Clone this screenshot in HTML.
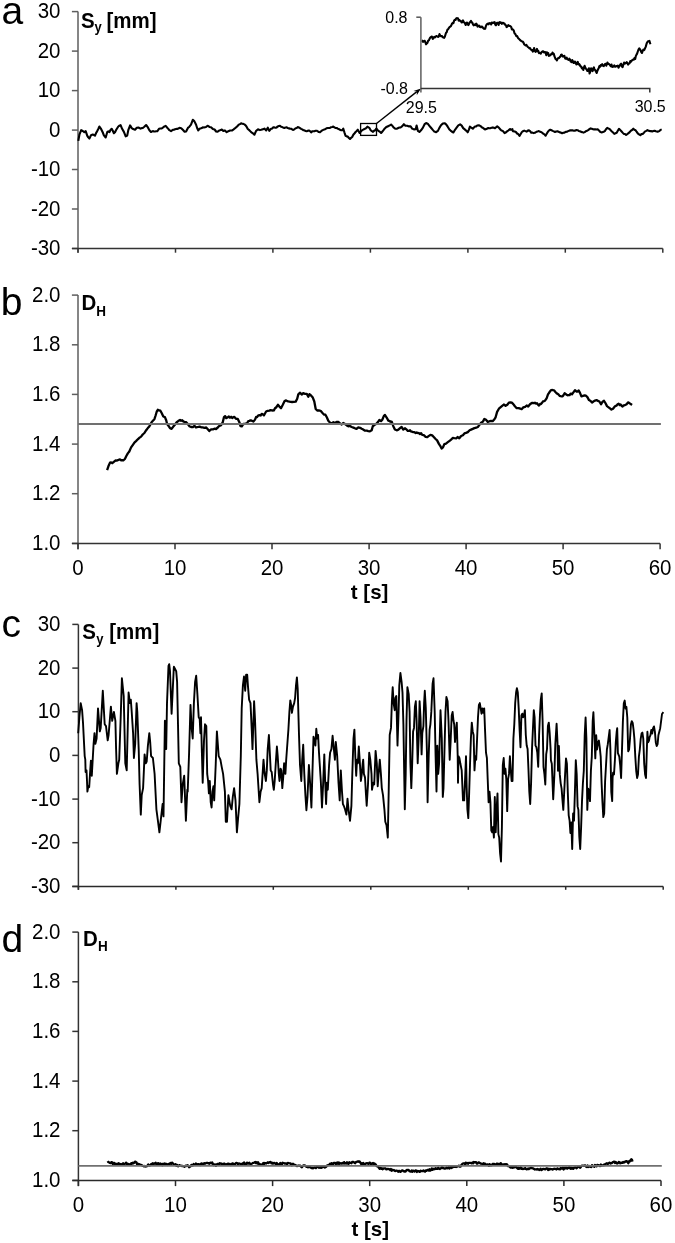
<!DOCTYPE html><html><head><meta charset="utf-8"><style>html,body{margin:0;padding:0;background:#fff;width:675px;height:1243px;overflow:hidden}svg{display:block;will-change:transform}text{font-family:"Liberation Sans",sans-serif}</style></head><body>
<svg width="675" height="1243" viewBox="0 0 675 1243">
<rect width="675" height="1243" fill="#fff"/>
<text x="1.5" y="23.7" font-size="39" fill="#000">a</text>
<text x="0.8" y="314.8" font-size="39" fill="#000">b</text>
<text x="1.5" y="636.5" font-size="39" fill="#000">c</text>
<text x="1.6" y="952.0" font-size="39" fill="#000">d</text>
<path d="M78.0 11.6V252.7" stroke="#5e5e5e" stroke-width="1.5" fill="none"/>
<path d="M71.9 248.5H78.0" stroke="#5e5e5e" stroke-width="1.5"/>
<text transform="translate(60.50 255.20) scale(1 1.07)" font-size="20.5" text-anchor="end">-30</text>
<path d="M71.9 209.0H78.0" stroke="#5e5e5e" stroke-width="1.5"/>
<text transform="translate(60.50 215.72) scale(1 1.07)" font-size="20.5" text-anchor="end">-20</text>
<path d="M71.9 169.5H78.0" stroke="#5e5e5e" stroke-width="1.5"/>
<text transform="translate(60.50 176.23) scale(1 1.07)" font-size="20.5" text-anchor="end">-10</text>
<path d="M71.9 130.1H78.0" stroke="#5e5e5e" stroke-width="1.5"/>
<text transform="translate(60.50 136.75) scale(1 1.07)" font-size="20.5" text-anchor="end">0</text>
<path d="M71.9 90.6H78.0" stroke="#5e5e5e" stroke-width="1.5"/>
<text transform="translate(60.50 97.27) scale(1 1.07)" font-size="20.5" text-anchor="end">10</text>
<path d="M71.9 51.1H78.0" stroke="#5e5e5e" stroke-width="1.5"/>
<text transform="translate(60.50 57.78) scale(1 1.07)" font-size="20.5" text-anchor="end">20</text>
<path d="M71.9 11.6H78.0" stroke="#5e5e5e" stroke-width="1.5"/>
<text transform="translate(60.50 18.30) scale(1 1.07)" font-size="20.5" text-anchor="end">30</text>
<path d="M71.9 248.5H662.8" stroke="#333" stroke-width="1.5" fill="none"/>
<path d="M78.0 248.5V252.7" stroke="#333" stroke-width="1.5"/>
<path d="M175.5 248.5V252.7" stroke="#333" stroke-width="1.5"/>
<path d="M272.9 248.5V252.7" stroke="#333" stroke-width="1.5"/>
<path d="M370.4 248.5V252.7" stroke="#333" stroke-width="1.5"/>
<path d="M467.9 248.5V252.7" stroke="#333" stroke-width="1.5"/>
<path d="M565.3 248.5V252.7" stroke="#333" stroke-width="1.5"/>
<path d="M662.8 248.5V252.7" stroke="#333" stroke-width="1.5"/>
<path d="M78.0 295.1V549.2" stroke="#5e5e5e" stroke-width="1.5" fill="none"/>
<path d="M71.9 543.4H78.0" stroke="#5e5e5e" stroke-width="1.5"/>
<text transform="translate(60.50 550.10) scale(1 1.07)" font-size="20.5" text-anchor="end">1.0</text>
<path d="M71.9 493.7H78.0" stroke="#5e5e5e" stroke-width="1.5"/>
<text transform="translate(60.50 500.44) scale(1 1.07)" font-size="20.5" text-anchor="end">1.2</text>
<path d="M71.9 444.1H78.0" stroke="#5e5e5e" stroke-width="1.5"/>
<text transform="translate(60.50 450.78) scale(1 1.07)" font-size="20.5" text-anchor="end">1.4</text>
<path d="M71.9 394.4H78.0" stroke="#5e5e5e" stroke-width="1.5"/>
<text transform="translate(60.50 401.12) scale(1 1.07)" font-size="20.5" text-anchor="end">1.6</text>
<path d="M71.9 344.8H78.0" stroke="#5e5e5e" stroke-width="1.5"/>
<text transform="translate(60.50 351.46) scale(1 1.07)" font-size="20.5" text-anchor="end">1.8</text>
<path d="M71.9 295.1H78.0" stroke="#5e5e5e" stroke-width="1.5"/>
<text transform="translate(60.50 301.80) scale(1 1.07)" font-size="20.5" text-anchor="end">2.0</text>
<path d="M71.9 543.4H660.1" stroke="#333" stroke-width="1.5" fill="none"/>
<path d="M78.0 543.4V549.2" stroke="#333" stroke-width="1.5"/>
<text transform="translate(78.00 574.80) scale(1 1.07)" font-size="20.5" text-anchor="middle">0</text>
<path d="M175.0 543.4V549.2" stroke="#333" stroke-width="1.5"/>
<text transform="translate(175.02 574.80) scale(1 1.07)" font-size="20.5" text-anchor="middle">10</text>
<path d="M272.0 543.4V549.2" stroke="#333" stroke-width="1.5"/>
<text transform="translate(272.03 574.80) scale(1 1.07)" font-size="20.5" text-anchor="middle">20</text>
<path d="M369.1 543.4V549.2" stroke="#333" stroke-width="1.5"/>
<text transform="translate(369.05 574.80) scale(1 1.07)" font-size="20.5" text-anchor="middle">30</text>
<path d="M466.1 543.4V549.2" stroke="#333" stroke-width="1.5"/>
<text transform="translate(466.07 574.80) scale(1 1.07)" font-size="20.5" text-anchor="middle">40</text>
<path d="M563.1 543.4V549.2" stroke="#333" stroke-width="1.5"/>
<text transform="translate(563.08 574.80) scale(1 1.07)" font-size="20.5" text-anchor="middle">50</text>
<path d="M660.1 543.4V549.2" stroke="#333" stroke-width="1.5"/>
<text transform="translate(660.10 574.80) scale(1 1.07)" font-size="20.5" text-anchor="middle">60</text>
<text x="369.6" y="599.3" font-size="20.5" font-weight="bold" text-anchor="middle">t [s]</text>
<path d="M78.4 624.4V889.8" stroke="#333" stroke-width="1.5" fill="none"/>
<path d="M72.3 886.4H78.4" stroke="#333" stroke-width="1.5"/>
<text transform="translate(60.50 893.10) scale(1 1.07)" font-size="20.5" text-anchor="end">-30</text>
<path d="M72.3 842.7H78.4" stroke="#333" stroke-width="1.5"/>
<text transform="translate(60.50 849.43) scale(1 1.07)" font-size="20.5" text-anchor="end">-20</text>
<path d="M72.3 799.1H78.4" stroke="#333" stroke-width="1.5"/>
<text transform="translate(60.50 805.77) scale(1 1.07)" font-size="20.5" text-anchor="end">-10</text>
<path d="M72.3 755.4H78.4" stroke="#333" stroke-width="1.5"/>
<text transform="translate(60.50 762.10) scale(1 1.07)" font-size="20.5" text-anchor="end">0</text>
<path d="M72.3 711.7H78.4" stroke="#333" stroke-width="1.5"/>
<text transform="translate(60.50 718.43) scale(1 1.07)" font-size="20.5" text-anchor="end">10</text>
<path d="M72.3 668.1H78.4" stroke="#333" stroke-width="1.5"/>
<text transform="translate(60.50 674.77) scale(1 1.07)" font-size="20.5" text-anchor="end">20</text>
<path d="M72.3 624.4H78.4" stroke="#333" stroke-width="1.5"/>
<text transform="translate(60.50 631.10) scale(1 1.07)" font-size="20.5" text-anchor="end">30</text>
<path d="M72.3 886.4H663.2" stroke="#2a2a2a" stroke-width="1.5" fill="none"/>
<path d="M78.4 886.4V889.8" stroke="#2a2a2a" stroke-width="1.5"/>
<path d="M175.9 886.4V889.8" stroke="#2a2a2a" stroke-width="1.5"/>
<path d="M273.3 886.4V889.8" stroke="#2a2a2a" stroke-width="1.5"/>
<path d="M370.8 886.4V889.8" stroke="#2a2a2a" stroke-width="1.5"/>
<path d="M468.3 886.4V889.8" stroke="#2a2a2a" stroke-width="1.5"/>
<path d="M565.7 886.4V889.8" stroke="#2a2a2a" stroke-width="1.5"/>
<path d="M663.2 886.4V889.8" stroke="#2a2a2a" stroke-width="1.5"/>
<path d="M78.4 932.1V1186.1" stroke="#333" stroke-width="1.5" fill="none"/>
<path d="M72.3 1180.4H78.4" stroke="#333" stroke-width="1.5"/>
<text transform="translate(60.50 1187.10) scale(1 1.07)" font-size="20.5" text-anchor="end">1.0</text>
<path d="M72.3 1130.7H78.4" stroke="#333" stroke-width="1.5"/>
<text transform="translate(60.50 1137.44) scale(1 1.07)" font-size="20.5" text-anchor="end">1.2</text>
<path d="M72.3 1081.1H78.4" stroke="#333" stroke-width="1.5"/>
<text transform="translate(60.50 1087.78) scale(1 1.07)" font-size="20.5" text-anchor="end">1.4</text>
<path d="M72.3 1031.4H78.4" stroke="#333" stroke-width="1.5"/>
<text transform="translate(60.50 1038.12) scale(1 1.07)" font-size="20.5" text-anchor="end">1.6</text>
<path d="M72.3 981.8H78.4" stroke="#333" stroke-width="1.5"/>
<text transform="translate(60.50 988.46) scale(1 1.07)" font-size="20.5" text-anchor="end">1.8</text>
<path d="M72.3 932.1H78.4" stroke="#333" stroke-width="1.5"/>
<text transform="translate(60.50 938.80) scale(1 1.07)" font-size="20.5" text-anchor="end">2.0</text>
<path d="M72.3 1180.4H661.0" stroke="#2a2a2a" stroke-width="1.5" fill="none"/>
<path d="M78.4 1180.4V1186.1" stroke="#2a2a2a" stroke-width="1.5"/>
<text transform="translate(78.40 1211.80) scale(1 1.07)" font-size="20.5" text-anchor="middle">0</text>
<path d="M175.5 1180.4V1186.1" stroke="#2a2a2a" stroke-width="1.5"/>
<text transform="translate(175.50 1211.80) scale(1 1.07)" font-size="20.5" text-anchor="middle">10</text>
<path d="M272.6 1180.4V1186.1" stroke="#2a2a2a" stroke-width="1.5"/>
<text transform="translate(272.60 1211.80) scale(1 1.07)" font-size="20.5" text-anchor="middle">20</text>
<path d="M369.7 1180.4V1186.1" stroke="#2a2a2a" stroke-width="1.5"/>
<text transform="translate(369.70 1211.80) scale(1 1.07)" font-size="20.5" text-anchor="middle">30</text>
<path d="M466.8 1180.4V1186.1" stroke="#2a2a2a" stroke-width="1.5"/>
<text transform="translate(466.80 1211.80) scale(1 1.07)" font-size="20.5" text-anchor="middle">40</text>
<path d="M563.9 1180.4V1186.1" stroke="#2a2a2a" stroke-width="1.5"/>
<text transform="translate(563.90 1211.80) scale(1 1.07)" font-size="20.5" text-anchor="middle">50</text>
<path d="M661.0 1180.4V1186.1" stroke="#2a2a2a" stroke-width="1.5"/>
<text transform="translate(661.00 1211.80) scale(1 1.07)" font-size="20.5" text-anchor="middle">60</text>
<text x="370.2" y="1236.3" font-size="20.5" font-weight="bold" text-anchor="middle">t [s]</text>
<text transform="translate(81.00 27.50) scale(1 1.07)" font-size="20.5" font-weight="bold">S</text>
<text transform="translate(94.60 31.90) scale(1 1.07)" font-size="13" font-weight="bold">y</text>
<text transform="translate(106.50 27.50) scale(1 1.07)" font-size="20.5" font-weight="bold">[mm]</text>
<text transform="translate(82.20 639.10) scale(1 1.07)" font-size="20.5" font-weight="bold">S</text>
<text transform="translate(96.20 644.10) scale(1 1.07)" font-size="13" font-weight="bold">y</text>
<text transform="translate(109.30 639.10) scale(1 1.07)" font-size="20.5" font-weight="bold">[mm]</text>
<text transform="translate(81.50 310.30) scale(1 1.07)" font-size="20.5" font-weight="bold">D</text>
<text transform="translate(96.30 315.50) scale(1 1.07)" font-size="13.5" font-weight="bold">H</text>
<text transform="translate(83.00 946.30) scale(1 1.07)" font-size="20.5" font-weight="bold">D</text>
<text transform="translate(98.10 951.20) scale(1 1.07)" font-size="13.5" font-weight="bold">H</text>
<path d="M78.2 733.2 L79.4 717.3 L80.7 703.1 L82.1 710.2 L83.0 722.6 L84.7 756.2 L85.3 759.7 L85.6 772.1 L86.5 770.4 L87.0 781.0 L87.4 791.6 L88.3 786.3 L89.2 787.2 L90.0 773.9 L90.9 760.6 L91.8 775.7 L92.7 759.7 L93.6 743.8 L94.5 733.2 L95.4 743.8 L96.6 738.5 L98.0 708.4 L99.8 731.4 L100.7 727.9 L102.8 690.7 L104.7 724.3 L106.0 726.1 L107.7 740.3 L108.6 735.0 L110.9 706.6 L112.2 720.8 L113.9 711.9 L115.4 720.8 L116.1 749.1 L116.9 773.9 L118.4 763.3 L119.2 759.7 L120.7 717.3 L121.9 678.3 L123.7 696.0 L125.3 763.3 L126.7 770.4 L128.6 692.5 L129.9 703.1 L130.8 699.6 L131.6 710.2 L133.1 733.2 L133.9 758.0 L135.2 743.8 L136.6 703.1 L137.3 711.9 L138.7 749.1 L139.6 784.5 L140.8 814.6 L141.7 795.1 L143.1 788.1 L144.6 754.4 L145.8 763.3 L146.7 761.5 L147.9 745.6 L149.3 733.2 L150.2 742.0 L151.1 756.2 L152.9 758.0 L154.6 773.9 L156.4 809.3 L157.8 819.9 L159.4 832.3 L160.8 819.9 L162.6 804.0 L163.5 816.4 L164.9 720.8 L166.2 749.1 L167.0 703.1 L168.5 665.9 L169.2 664.2 L170.0 671.2 L171.6 713.7 L173.8 667.7 L173.9 666.8 L176.2 671.2 L177.1 681.9 L178.0 724.3 L178.8 763.3 L180.3 766.8 L181.5 802.2 L182.7 784.5 L184.2 775.7 L185.9 820.8 L187.3 789.8 L187.7 791.6 L189.1 752.7 L190.5 704.9 L191.6 727.9 L192.7 738.5 L193.9 703.1 L195.1 681.9 L196.2 675.7 L197.4 694.2 L198.7 717.3 L199.7 719.0 L200.4 733.2 L201.0 717.3 L201.9 752.7 L202.7 782.7 L204.0 740.3 L205.0 724.3 L206.3 726.1 L207.2 773.9 L208.1 781.0 L208.9 793.4 L209.8 781.0 L210.7 802.2 L211.6 807.5 L212.5 791.6 L213.4 786.3 L214.2 800.4 L215.7 765.0 L216.9 731.4 L218.7 756.2 L220.4 759.7 L221.7 766.8 L223.1 773.9 L224.9 791.6 L225.8 821.7 L227.0 821.7 L228.4 795.1 L230.2 805.8 L231.6 809.3 L232.8 796.9 L234.1 788.1 L235.5 800.4 L236.9 832.3 L238.1 818.1 L239.4 804.0 L240.8 756.2 L241.7 708.4 L242.9 685.4 L244.0 676.5 L245.2 690.7 L246.1 674.8 L247.2 674.8 L247.9 685.4 L249.1 699.6 L250.5 703.1 L251.8 731.4 L252.5 749.1 L254.1 701.3 L255.0 719.0 L256.4 759.7 L257.6 773.9 L259.4 802.2 L260.6 791.6 L261.7 788.1 L263.5 759.7 L264.7 773.9 L265.9 781.0 L266.8 770.4 L267.7 749.1 L268.9 735.0 L270.0 756.2 L270.7 770.4 L271.7 772.1 L273.0 784.5 L273.8 789.8 L274.7 781.0 L276.0 759.7 L276.9 746.5 L277.7 756.2 L278.8 773.9 L279.5 781.0 L280.6 768.6 L281.3 770.4 L282.3 788.1 L283.2 777.4 L284.1 763.3 L285.4 773.9 L286.2 759.7 L287.1 747.3 L288.4 729.6 L289.4 711.9 L290.3 700.4 L291.2 704.9 L291.9 712.8 L293.0 706.6 L294.2 703.1 L295.1 697.8 L296.0 685.4 L296.9 677.4 L297.7 688.9 L299.0 735.0 L300.0 765.0 L301.3 781.0 L302.2 759.7 L303.2 744.7 L304.3 773.9 L305.4 795.1 L306.4 810.2 L307.5 796.9 L308.9 765.0 L310.1 782.7 L311.4 807.5 L312.4 773.9 L313.5 736.7 L314.6 740.3 L315.4 745.6 L316.3 728.8 L317.2 738.5 L318.1 735.0 L319.0 752.7 L320.8 781.0 L322.0 807.5 L323.1 784.5 L324.3 754.4 L325.2 782.7 L326.1 804.0 L326.9 782.7 L327.8 789.8 L329.1 765.0 L330.1 752.7 L331.4 749.1 L332.6 735.8 L333.7 747.3 L334.9 759.7 L335.8 742.0 L337.2 756.2 L338.5 782.7 L339.7 800.4 L340.8 770.4 L342.0 791.6 L342.9 804.0 L343.8 805.8 L345.0 809.3 L346.4 814.6 L347.5 798.7 L348.5 809.3 L350.0 820.8 L351.4 805.8 L352.3 773.9 L353.5 738.5 L354.4 729.6 L355.3 756.2 L356.2 775.7 L357.0 759.7 L357.9 763.3 L358.8 746.5 L359.7 759.7 L360.9 781.0 L361.8 773.9 L362.7 763.3 L363.2 759.7 L363.9 773.9 L365.0 777.4 L365.8 791.6 L366.7 805.8 L368.0 784.5 L369.2 752.7 L370.3 759.7 L371.5 773.9 L372.0 789.8 L373.3 782.7 L374.2 784.5 L375.6 750.9 L376.8 763.3 L377.7 786.3 L378.6 773.9 L379.8 759.7 L380.9 773.9 L381.8 788.1 L383.0 795.1 L384.4 809.3 L385.3 821.7 L386.5 825.2 L387.8 837.6 L388.7 791.6 L389.7 735.0 L391.0 727.9 L391.9 701.3 L392.7 687.2 L393.6 703.1 L394.7 710.2 L395.4 697.8 L396.3 696.0 L397.5 745.6 L398.6 711.9 L399.3 685.4 L400.4 673.0 L401.6 681.9 L402.5 692.5 L403.4 724.3 L404.2 773.9 L404.8 809.3 L405.7 773.9 L406.5 720.8 L407.4 687.2 L408.7 694.2 L409.6 711.9 L410.4 763.3 L411.3 788.1 L412.2 763.3 L413.1 731.4 L414.0 727.9 L414.9 706.6 L415.8 701.3 L416.6 720.8 L417.7 763.3 L418.8 735.0 L419.6 701.3 L420.5 717.3 L421.6 754.4 L422.3 733.2 L423.4 726.1 L424.1 703.1 L424.8 690.7 L425.8 708.4 L426.9 750.9 L427.6 802.2 L428.7 756.2 L429.6 729.6 L430.4 724.3 L431.3 711.9 L432.6 683.6 L433.5 678.3 L434.7 711.9 L435.6 756.2 L436.5 791.6 L437.3 745.6 L438.2 773.9 L439.1 763.3 L440.5 710.2 L441.8 738.5 L442.8 796.9 L443.5 788.1 L444.6 745.6 L445.5 711.9 L446.4 696.9 L447.6 701.3 L448.5 720.8 L449.7 759.7 L450.6 742.0 L451.7 715.5 L452.6 711.9 L453.5 720.8 L454.2 724.3 L455.0 742.0 L455.9 731.4 L456.8 722.6 L457.7 756.2 L458.0 782.7 L458.5 756.2 L459.4 758.0 L460.3 763.3 L461.7 770.4 L463.0 800.4 L464.2 800.4 L465.3 773.9 L466.0 756.2 L466.7 788.1 L467.4 809.3 L468.3 818.1 L469.2 791.6 L470.0 765.0 L470.9 738.5 L471.8 722.6 L472.7 731.4 L473.6 735.0 L474.5 770.4 L475.4 756.2 L476.2 759.7 L477.1 738.5 L478.0 717.3 L478.9 704.9 L479.8 703.1 L480.7 708.4 L481.5 713.7 L482.4 708.4 L483.3 712.8 L484.2 708.4 L485.1 731.4 L486.0 752.7 L486.9 758.0 L487.7 779.2 L488.6 802.2 L489.5 791.6 L490.4 802.2 L491.3 830.5 L492.2 832.3 L493.1 827.0 L493.9 837.6 L494.8 796.9 L495.7 832.3 L496.6 809.3 L497.5 793.4 L498.4 834.1 L499.2 837.6 L500.1 853.5 L501.0 861.5 L501.9 827.0 L502.8 765.0 L503.7 758.0 L504.6 773.9 L505.4 768.6 L506.3 779.2 L507.2 811.1 L508.1 779.2 L509.0 773.9 L509.9 756.2 L510.8 770.4 L511.6 781.0 L512.5 781.0 L513.4 738.5 L514.3 724.3 L515.2 703.1 L516.1 692.5 L516.9 688.1 L517.8 692.5 L518.7 708.4 L519.6 729.6 L520.5 747.3 L521.4 715.5 L522.3 713.7 L523.1 717.3 L524.0 715.5 L524.9 710.2 L525.8 735.0 L526.7 745.6 L527.6 749.1 L528.5 770.4 L529.3 791.6 L530.2 804.0 L531.1 782.7 L532.0 749.1 L532.9 729.6 L533.8 710.2 L534.6 717.3 L535.5 745.6 L536.4 747.3 L537.3 752.7 L538.2 766.8 L539.1 735.0 L540.0 713.7 L540.8 699.6 L541.7 693.4 L542.6 720.8 L543.5 766.8 L544.4 773.9 L545.3 784.5 L546.2 754.4 L547.0 749.1 L547.9 726.1 L548.8 722.6 L549.7 733.2 L550.6 749.1 L550.9 760.2 L551.8 763.7 L553.2 799.3 L554.4 774.4 L555.3 744.2 L556.6 723.8 L557.5 742.4 L558.0 770.8 L558.9 746.0 L559.8 774.4 L560.7 783.3 L561.6 788.6 L562.4 799.3 L563.3 809.9 L564.2 792.2 L565.1 774.4 L566.0 758.4 L566.9 763.7 L567.8 792.2 L568.7 815.3 L569.6 820.6 L570.4 833.0 L571.3 822.4 L572.2 849.0 L573.1 813.5 L574.0 820.6 L574.9 792.2 L575.8 760.2 L576.7 774.4 L577.6 806.4 L578.4 809.9 L579.3 836.6 L580.2 849.0 L581.1 827.7 L582.0 801.1 L582.9 783.3 L583.8 770.8 L584.7 735.3 L585.6 717.5 L586.4 738.9 L587.3 809.9 L588.2 788.6 L589.1 792.2 L590.0 801.1 L590.9 770.8 L591.8 756.6 L592.7 721.1 L593.4 712.2 L594.4 735.3 L595.3 758.4 L596.2 735.3 L597.1 749.5 L598.0 742.4 L598.9 740.6 L599.8 747.7 L600.7 756.6 L601.6 783.3 L602.4 801.1 L603.3 817.1 L604.2 813.5 L605.1 781.5 L606.0 765.5 L606.9 749.5 L607.8 744.2 L608.7 737.1 L609.6 730.0 L610.4 749.5 L611.3 792.2 L612.2 801.1 L612.6 778.0 L613.1 772.6 L614.0 774.4 L614.9 760.2 L615.8 742.4 L616.7 731.7 L617.2 728.2 L617.9 753.1 L619.3 756.6 L620.2 765.5 L621.1 778.0 L622.0 749.5 L622.9 721.1 L623.8 703.3 L624.7 700.6 L625.6 708.6 L626.4 706.9 L627.3 717.5 L628.2 751.3 L629.1 749.5 L630.0 738.9 L630.9 724.6 L631.8 721.1 L632.7 722.9 L633.6 730.0 L634.4 738.9 L635.3 756.6 L636.2 770.8 L637.1 778.0 L638.0 774.4 L638.9 756.6 L639.8 749.5 L640.7 738.9 L641.6 733.5 L642.4 732.6 L643.3 738.9 L644.2 763.7 L645.1 774.4 L646.0 778.0 L646.9 747.7 L647.4 731.7 L648.1 742.4 L649.0 740.6 L649.6 737.1 L650.4 735.3 L651.3 730.0 L652.2 733.5 L653.1 728.2 L654.0 726.4 L654.9 731.7 L655.8 742.4 L656.7 746.0 L657.6 744.2 L658.4 735.3 L659.3 731.7 L660.2 728.2 L661.1 721.1 L662.0 714.0 L663.4 712.2" stroke="#000" stroke-width="1.9" fill="none" stroke-linejoin="round"/>
<path d="M78.3 140.9 L79.4 134.7 L81.2 130.2 L82.8 131.0 L84.3 132.2 L85.7 131.1 L87.2 135.6 L88.3 137.4 L89.4 138.6 L91.0 135.3 L92.8 134.6 L93.9 135.0 L95.0 135.7 L96.1 133.0 L97.2 131.1 L98.3 129.0 L99.4 126.5 L101.2 129.2 L102.8 132.5 L103.9 135.3 L105.7 137.5 L107.2 132.2 L108.3 131.4 L109.4 132.2 L110.6 129.8 L111.7 128.8 L112.8 130.8 L113.9 133.2 L115.0 132.2 L116.1 130.0 L117.2 128.2 L118.3 126.5 L119.4 125.7 L120.6 125.1 L122.1 128.8 L123.9 131.9 L125.7 136.4 L127.2 135.6 L128.3 130.1 L130.1 125.4 L131.7 128.1 L133.2 129.1 L135.0 129.8 L136.8 127.7 L138.3 127.5 L139.4 128.0 L140.6 128.7 L141.7 128.1 L142.8 128.0 L144.3 126.8 L146.1 125.0 L147.9 127.4 L149.4 130.2 L151.0 132.0 L152.8 131.1 L153.9 131.5 L155.0 131.5 L156.1 131.3 L157.2 131.3 L159.0 128.8 L160.3 128.5 L161.7 128.5 L162.8 127.7 L163.9 126.8 L165.7 125.9 L167.2 127.7 L168.3 128.9 L169.4 130.2 L171.0 131.1 L172.8 129.9 L173.9 129.8 L175.0 129.3 L176.1 128.9 L177.2 129.0 L178.3 128.6 L179.4 127.8 L181.2 128.2 L182.8 129.8 L184.6 131.8 L186.1 131.4 L187.9 127.9 L189.4 126.7 L191.0 124.7 L192.8 119.8 L194.3 121.1 L196.1 124.7 L197.2 128.3 L198.3 130.4 L199.4 128.8 L200.6 128.4 L201.7 128.1 L202.8 127.3 L203.9 127.5 L205.0 127.2 L206.1 126.9 L207.9 125.7 L209.4 126.9 L211.0 127.3 L212.8 128.9 L214.6 129.5 L216.1 131.5 L217.2 131.7 L218.3 131.2 L219.5 130.4 L220.6 130.1 L221.8 129.5 L223.3 131.0 L224.9 130.4 L226.7 132.2 L228.4 131.2 L230.0 130.5 L231.1 130.5 L232.2 130.4 L233.3 129.6 L234.4 128.7 L235.6 127.8 L236.7 126.9 L237.8 125.7 L238.9 124.6 L240.0 124.1 L241.1 123.2 L242.2 123.8 L243.3 123.9 L244.4 124.4 L245.6 125.3 L246.7 126.9 L247.8 129.0 L248.9 129.8 L250.0 130.9 L251.1 132.1 L252.2 132.8 L253.3 133.6 L254.4 134.7 L256.0 131.1 L257.8 129.4 L258.9 129.6 L260.0 130.1 L261.1 129.8 L262.2 129.4 L263.3 129.2 L264.4 128.6 L266.2 130.4 L267.8 127.7 L269.3 130.9 L271.1 128.7 L272.2 128.4 L273.3 127.3 L274.4 127.4 L275.6 127.8 L276.7 127.4 L277.8 126.4 L278.9 126.0 L280.0 125.8 L281.1 126.8 L282.2 127.1 L283.3 127.7 L284.4 127.9 L285.6 127.6 L286.7 127.2 L287.8 128.1 L288.9 128.4 L290.0 128.6 L291.1 128.7 L292.2 129.5 L293.3 129.9 L294.4 129.3 L295.6 128.3 L296.7 128.0 L297.8 127.1 L298.9 127.4 L300.0 128.1 L301.1 128.9 L302.2 129.4 L303.3 130.2 L304.4 130.3 L305.6 131.0 L306.7 131.3 L307.8 130.8 L308.9 130.5 L310.0 131.1 L311.1 132.4 L312.2 131.4 L313.3 131.3 L314.4 131.2 L315.6 130.7 L316.7 130.7 L317.8 131.3 L318.9 132.0 L320.0 132.3 L321.1 131.3 L322.2 130.4 L323.3 129.9 L324.4 129.4 L325.6 129.0 L326.7 128.2 L327.8 128.0 L328.9 128.0 L330.0 127.9 L331.1 127.2 L332.2 127.0 L333.3 126.6 L334.4 127.4 L335.6 128.0 L336.7 128.0 L337.8 128.7 L338.9 129.1 L340.0 129.8 L341.1 130.2 L342.2 130.3 L343.3 128.7 L344.4 132.3 L345.6 135.8 L346.7 136.4 L347.8 136.6 L348.9 138.0 L350.0 139.0 L351.1 137.8 L352.2 137.0 L353.3 134.8 L354.4 133.5 L355.6 132.0 L356.7 130.9 L357.8 129.7 L359.6 133.0 L361.1 131.1 L362.2 130.2 L363.3 129.6 L364.4 129.0 L365.6 128.6 L367.4 126.7 L369.3 127.8 L370.7 130.2 L371.9 131.2 L373.0 131.9 L374.1 130.7 L375.2 130.2 L376.3 128.5 L378.1 130.6 L379.6 131.6 L381.1 133.0 L382.2 131.7 L383.3 130.4 L384.8 128.4 L386.3 126.9 L387.4 126.7 L388.5 126.0 L389.8 125.4 L391.1 124.5 L392.4 125.9 L393.7 127.5 L394.8 128.4 L395.9 128.7 L397.1 128.6 L398.2 128.0 L399.4 127.5 L400.6 127.5 L402.3 126.2 L403.9 124.2 L405.4 125.7 L407.2 125.8 L409.0 126.4 L410.6 126.2 L412.1 128.6 L413.9 129.4 L415.7 129.2 L416.6 125.5 L417.9 130.9 L419.4 132.0 L421.0 130.3 L422.8 127.9 L424.6 124.2 L426.1 123.1 L427.7 123.7 L429.4 125.8 L431.2 128.0 L432.8 129.9 L434.3 131.6 L436.1 132.2 L437.9 130.9 L439.4 127.9 L441.0 125.3 L442.8 123.5 L444.6 123.2 L446.1 124.3 L447.7 126.7 L449.4 129.5 L450.6 130.6 L451.7 131.5 L453.4 132.5 L455.0 129.8 L456.6 127.6 L458.3 125.3 L460.1 124.3 L461.7 125.6 L463.2 128.1 L465.0 129.6 L466.8 131.2 L467.7 132.3 L469.0 129.4 L469.9 126.7 L471.2 127.7 L472.8 128.7 L473.9 127.5 L475.0 126.5 L476.1 126.4 L477.2 125.5 L478.8 125.2 L480.6 126.1 L481.7 127.2 L482.8 127.7 L483.9 128.6 L485.0 129.5 L486.8 128.8 L488.3 128.0 L489.4 128.2 L490.6 128.1 L491.7 127.7 L492.8 127.4 L493.9 127.8 L495.0 128.3 L496.1 127.3 L497.2 126.4 L498.8 127.6 L500.6 129.7 L501.7 130.6 L502.8 130.9 L504.6 133.1 L506.1 132.3 L507.2 131.2 L508.3 130.6 L510.0 129.0 L510.6 129.8 L512.4 129.2 L512.8 131.1 L514.7 131.5 L515.9 132.0 L517.1 133.5 L518.3 134.2 L519.5 135.8 L520.7 134.0 L521.9 132.0 L523.0 131.2 L524.2 130.6 L525.4 131.1 L526.6 131.6 L527.8 130.6 L529.0 130.4 L530.1 131.1 L531.3 132.8 L532.5 132.6 L533.7 133.1 L534.9 132.8 L536.1 132.0 L537.3 131.6 L538.4 131.1 L539.6 131.5 L540.8 131.9 L542.0 132.6 L543.2 133.7 L544.4 134.4 L545.6 135.7 L546.7 133.8 L547.9 131.7 L549.1 130.4 L550.3 129.7 L551.5 130.3 L552.7 130.9 L553.8 131.4 L555.0 132.0 L556.2 131.5 L557.4 131.3 L558.6 131.8 L559.8 132.4 L561.0 132.6 L562.1 133.3 L563.3 132.8 L564.5 132.6 L565.7 131.9 L566.9 131.7 L568.1 131.1 L569.3 130.6 L570.4 130.4 L571.6 130.3 L572.8 130.4 L574.0 130.8 L575.2 130.6 L576.4 130.0 L577.6 130.2 L578.7 130.9 L579.9 131.3 L581.1 131.9 L582.3 132.1 L583.5 132.6 L584.7 132.1 L585.8 131.2 L587.0 130.7 L588.2 130.1 L589.4 129.2 L590.6 128.4 L591.8 128.8 L593.0 129.2 L594.1 129.4 L595.3 129.3 L596.5 129.5 L597.7 129.2 L598.9 130.4 L600.1 131.8 L601.3 132.4 L602.4 132.3 L603.6 131.8 L604.8 131.1 L606.0 129.2 L607.2 127.9 L608.4 128.6 L609.5 128.9 L610.7 130.3 L611.9 131.5 L613.1 132.6 L614.3 133.9 L615.5 133.3 L616.7 132.8 L617.8 130.8 L619.0 128.8 L620.2 130.0 L621.4 131.2 L622.6 132.6 L623.8 133.9 L625.0 134.0 L626.1 135.0 L627.3 134.2 L628.5 133.1 L629.7 132.1 L630.9 130.7 L632.1 130.0 L633.3 128.7 L634.4 129.8 L635.6 130.3 L636.8 132.0 L638.0 133.6 L639.2 134.5 L640.4 135.2 L641.5 134.1 L642.7 133.9 L643.9 132.7 L645.1 131.4 L646.3 130.9 L647.5 130.1 L648.7 130.8 L649.8 131.1 L651.0 131.0 L652.2 131.5 L653.4 131.1 L654.6 130.7 L655.8 131.2 L657.0 131.6 L658.1 131.6 L659.3 131.1 L660.5 129.9 L661.7 129.4" stroke="#000" stroke-width="2.1" fill="none" stroke-linejoin="round"/>
<path d="M107.1 470.1 L108.4 466.3 L110.0 462.6 L111.1 462.3 L112.2 463.2 L113.3 462.3 L114.4 461.4 L115.6 460.5 L116.7 460.6 L117.8 460.2 L118.9 459.7 L120.0 459.5 L121.1 460.3 L122.2 460.1 L123.3 460.4 L124.9 459.0 L126.2 456.3 L127.8 453.4 L129.3 451.5 L131.1 447.4 L132.9 444.8 L134.4 442.6 L136.0 441.1 L137.8 439.3 L139.6 437.6 L141.1 436.6 L142.7 434.5 L144.4 433.0 L146.2 430.2 L147.8 428.1 L149.3 426.4 L150.7 423.9 L151.6 422.2 L152.9 420.8 L154.4 419.2 L155.6 415.5 L156.7 411.7 L157.8 409.8 L158.9 410.4 L160.4 410.7 L161.8 413.3 L163.3 416.5 L164.9 417.1 L166.2 420.3 L167.1 424.1 L168.4 425.7 L170.0 428.2 L171.6 428.8 L173.3 426.6 L175.1 424.5 L176.7 422.2 L178.2 421.1 L180.0 420.0 L181.1 420.8 L182.2 420.2 L183.3 421.4 L184.4 421.8 L186.2 422.2 L187.8 424.1 L189.3 426.2 L191.1 427.0 L192.9 427.1 L194.4 425.8 L196.0 427.5 L197.8 427.0 L199.6 426.6 L201.1 427.3 L202.7 427.4 L204.4 427.8 L206.2 427.5 L207.8 429.2 L209.3 431.0 L211.1 429.3 L212.9 429.4 L214.4 428.7 L216.0 429.0 L217.8 427.5 L218.9 426.2 L220.0 425.6 L221.1 425.1 L222.7 422.4 L224.0 417.1 L225.1 416.1 L226.2 418.1 L227.8 417.3 L228.9 416.5 L230.0 417.7 L231.1 416.8 L232.2 418.0 L233.3 417.2 L234.4 416.9 L236.0 418.8 L237.8 418.9 L239.6 422.7 L240.4 426.1 L241.8 426.3 L243.3 424.0 L244.9 423.9 L246.7 423.2 L247.2 423.0 L248.3 421.1 L249.4 420.9 L250.6 420.3 L251.7 420.7 L253.4 421.6 L255.0 419.6 L256.1 417.0 L257.2 417.0 L258.3 415.3 L259.4 415.2 L260.6 415.5 L261.7 413.9 L262.8 414.3 L263.9 415.4 L265.0 413.5 L266.1 411.5 L267.7 410.8 L269.4 410.6 L270.6 410.1 L271.7 410.4 L272.8 410.5 L273.9 410.4 L275.0 408.3 L276.1 407.5 L277.9 404.8 L279.4 406.6 L281.0 408.2 L282.8 404.8 L284.6 401.1 L286.1 400.4 L287.2 401.1 L288.3 401.4 L289.4 401.6 L290.6 401.8 L292.1 402.0 L293.9 401.9 L295.7 401.6 L297.2 398.8 L298.3 394.4 L300.1 392.7 L301.7 394.6 L303.2 393.2 L305.0 393.8 L306.8 393.9 L308.3 396.7 L309.4 394.1 L311.2 395.7 L312.8 397.6 L314.3 401.5 L315.7 409.0 L317.2 410.5 L318.8 410.4 L320.6 410.8 L322.3 412.8 L323.9 414.5 L325.4 414.7 L326.8 417.3 L328.3 420.8 L329.9 422.5 L331.7 423.5 L333.4 422.2 L335.0 423.2 L336.6 421.8 L338.3 421.9 L340.1 423.5 L341.7 424.5 L343.2 423.0 L345.0 424.1 L346.8 425.4 L348.3 426.3 L349.9 425.9 L351.7 427.0 L353.4 427.6 L355.0 428.3 L356.6 428.8 L358.3 427.4 L360.1 427.8 L361.7 428.8 L363.2 429.6 L365.0 430.7 L366.8 430.7 L368.3 431.1 L369.9 431.3 L371.7 430.2 L372.8 426.2 L374.3 425.1 L376.1 424.1 L377.9 422.1 L379.4 419.9 L381.0 421.1 L382.3 419.7 L383.9 415.9 L385.0 415.0 L386.8 417.8 L388.3 420.6 L389.9 421.1 L390.0 421.6 L391.7 422.0 L391.8 421.8 L393.3 426.2 L394.9 429.5 L396.7 430.3 L398.4 429.7 L400.0 428.2 L401.6 427.0 L403.3 429.6 L405.1 428.3 L406.7 429.7 L407.8 430.9 L408.9 430.9 L410.0 430.3 L411.1 431.5 L412.2 431.7 L413.3 432.2 L414.4 432.1 L415.6 433.0 L416.7 432.4 L417.8 433.0 L418.9 433.1 L420.0 434.0 L421.1 433.2 L422.2 434.9 L423.8 435.1 L425.6 436.8 L427.3 437.2 L428.9 435.9 L430.4 434.9 L432.2 435.4 L434.0 437.2 L435.6 439.0 L437.1 440.4 L438.9 443.9 L440.2 445.8 L441.6 448.5 L442.9 447.4 L444.4 444.1 L446.0 443.6 L447.8 442.2 L449.6 440.8 L451.1 439.6 L452.7 438.0 L454.4 438.2 L456.2 438.3 L457.8 437.0 L459.3 438.3 L461.1 436.0 L462.9 435.2 L464.4 433.4 L466.0 432.9 L467.8 432.1 L469.6 430.3 L471.1 429.6 L472.7 428.9 L474.4 428.1 L476.2 427.7 L477.8 427.0 L479.3 425.1 L481.1 422.8 L482.9 421.6 L484.4 418.9 L486.0 419.8 L487.8 421.9 L489.6 421.2 L491.1 421.0 L492.7 421.1 L494.0 419.8 L495.6 417.3 L497.1 411.9 L498.9 408.7 L500.7 407.2 L502.2 405.9 L503.8 404.5 L505.6 405.8 L507.3 404.7 L508.9 402.6 L510.4 402.3 L511.8 402.7 L513.3 404.1 L514.9 406.3 L516.7 408.2 L518.4 408.2 L520.0 408.5 L521.6 409.2 L523.3 407.4 L525.1 406.9 L526.7 405.5 L528.2 406.5 L530.0 404.3 L531.8 403.0 L532.8 403.0 L533.9 403.1 L534.9 402.7 L536.0 403.6 L537.0 403.2 L538.0 404.7 L539.0 405.6 L540.0 404.0 L541.0 404.0 L542.0 402.8 L543.0 401.4 L544.0 401.1 L545.0 400.7 L546.6 398.3 L548.0 394.4 L549.4 392.3 L551.0 390.1 L552.6 390.0 L554.0 390.3 L555.4 392.0 L557.0 393.6 L558.6 394.6 L559.6 395.9 L560.6 396.2 L561.6 396.3 L562.6 396.4 L563.6 395.0 L564.6 393.2 L565.6 394.1 L566.6 394.7 L567.6 395.3 L568.6 395.2 L569.6 395.2 L570.6 393.6 L572.0 394.3 L573.4 392.4 L575.0 390.2 L576.6 391.6 L577.6 391.6 L578.6 390.4 L580.0 392.9 L581.4 396.4 L583.0 395.9 L584.6 395.4 L586.0 395.7 L587.4 397.1 L589.0 400.1 L590.6 401.0 L592.0 402.6 L593.4 401.5 L595.0 400.6 L596.6 400.1 L598.0 400.9 L599.4 401.5 L601.0 404.3 L602.6 401.7 L604.0 400.8 L605.4 403.0 L607.0 406.1 L608.6 407.3 L610.0 408.4 L611.4 409.6 L613.0 408.7 L614.6 406.7 L615.6 405.9 L616.6 405.6 L617.6 404.2 L618.6 403.7 L619.6 405.1 L620.6 404.5 L621.6 405.9 L622.6 406.5 L623.6 405.3 L624.6 405.3 L625.6 404.8 L626.6 404.2 L628.0 402.4 L629.4 403.1 L631.0 404.2 L632.0 405.0" stroke="#000" stroke-width="2.3" fill="none" stroke-linejoin="round"/>
<path d="M107.6 1161.1 L108.3 1162.2 L109.1 1162.4 L109.8 1163.0 L110.6 1163.2 L111.3 1162.2 L112.0 1162.2 L112.8 1164.0 L113.5 1163.0 L114.3 1163.0 L115.0 1164.6 L115.7 1163.6 L116.5 1164.5 L117.2 1163.8 L118.0 1164.1 L118.7 1163.2 L119.4 1164.1 L120.2 1164.6 L120.9 1164.0 L121.7 1164.5 L122.4 1164.4 L123.1 1163.3 L123.9 1164.5 L124.6 1164.0 L125.4 1163.3 L126.1 1162.6 L126.9 1164.4 L127.6 1163.6 L128.3 1164.2 L129.1 1164.6 L129.8 1164.1 L130.6 1164.3 L131.3 1163.1 L132.0 1163.7 L132.8 1162.7 L133.5 1163.3 L134.3 1162.8 L135.0 1161.6 L135.7 1161.9 L136.5 1162.5 L137.2 1164.5 L138.0 1163.8 L138.7 1164.5 L139.4 1164.2 L140.2 1164.9 L140.9 1164.9 L141.7 1165.1 L142.4 1165.8 L143.1 1165.8 L143.9 1166.4 L144.6 1166.0 L145.4 1166.5 L146.1 1166.2 L146.9 1166.3 L147.6 1165.5 L148.3 1164.4 L149.1 1165.5 L149.8 1165.4 L150.6 1165.0 L151.3 1164.0 L152.0 1164.2 L152.8 1163.1 L153.5 1164.3 L154.3 1163.7 L155.0 1163.2 L155.7 1162.8 L156.5 1164.5 L157.2 1164.8 L158.0 1163.1 L158.7 1164.6 L159.4 1163.9 L160.2 1163.4 L160.9 1163.8 L161.7 1164.9 L162.4 1165.2 L163.1 1163.7 L163.9 1164.7 L164.6 1163.5 L165.4 1164.7 L166.1 1163.8 L166.9 1164.8 L167.6 1165.0 L168.3 1163.9 L169.1 1164.8 L169.8 1163.4 L170.6 1162.9 L171.3 1163.8 L172.0 1162.6 L172.8 1163.3 L173.5 1164.1 L174.3 1164.9 L175.0 1164.3 L175.7 1164.2 L176.5 1165.9 L177.2 1164.9 L178.0 1166.3 L178.7 1166.2 L179.4 1165.2 L180.2 1165.5 L180.9 1165.7 L181.7 1166.0 L182.4 1166.0 L183.1 1166.1 L183.9 1166.3 L184.6 1166.8 L185.4 1165.9 L186.1 1165.6 L186.9 1166.1 L187.6 1165.3 L188.3 1165.7 L189.1 1167.3 L189.8 1166.6 L190.6 1166.3 L191.3 1164.9 L192.0 1165.5 L192.8 1165.5 L193.6 1164.0 L194.4 1164.8 L195.2 1164.7 L195.9 1163.5 L196.7 1164.5 L197.4 1164.1 L198.1 1164.6 L198.9 1164.1 L199.6 1164.9 L200.4 1165.1 L201.1 1163.5 L201.9 1163.3 L202.6 1164.4 L203.3 1164.8 L204.1 1163.2 L204.8 1163.4 L205.6 1163.5 L206.3 1162.8 L207.0 1163.0 L207.8 1163.0 L208.5 1163.2 L209.3 1163.7 L210.0 1162.9 L210.7 1162.7 L211.5 1163.2 L212.2 1162.4 L213.0 1164.1 L213.7 1165.1 L214.4 1164.5 L215.2 1164.5 L215.9 1165.9 L216.7 1164.4 L217.4 1163.9 L218.1 1164.0 L218.9 1164.5 L219.6 1163.2 L220.4 1163.6 L221.1 1163.5 L221.9 1164.6 L222.6 1163.9 L223.3 1164.8 L224.1 1163.5 L224.8 1163.8 L225.6 1164.4 L226.3 1164.9 L227.0 1164.1 L227.8 1163.7 L228.5 1163.6 L229.3 1164.5 L230.0 1164.0 L230.7 1165.0 L231.5 1164.9 L232.2 1163.4 L233.0 1163.4 L233.7 1164.4 L234.4 1164.0 L235.2 1164.2 L235.9 1163.2 L236.7 1162.9 L237.4 1163.3 L238.1 1164.4 L238.9 1163.4 L239.6 1163.6 L240.4 1163.8 L241.1 1163.9 L241.9 1164.0 L242.6 1164.7 L243.3 1162.9 L244.1 1162.4 L244.8 1164.0 L245.6 1163.8 L246.3 1163.9 L247.0 1162.6 L247.8 1163.6 L248.5 1163.7 L249.3 1162.6 L250.0 1163.8 L250.7 1164.2 L251.5 1163.8 L252.2 1163.4 L253.0 1162.8 L253.7 1162.8 L254.4 1162.5 L255.2 1162.0 L255.9 1163.0 L256.7 1162.2 L257.4 1163.5 L258.1 1162.2 L258.9 1164.1 L259.6 1163.9 L260.4 1164.6 L261.1 1164.6 L261.9 1164.8 L262.6 1164.3 L263.3 1163.0 L264.1 1164.3 L264.8 1163.0 L265.6 1163.2 L266.3 1163.5 L267.0 1162.9 L267.8 1162.3 L268.5 1163.0 L269.3 1162.4 L270.0 1162.1 L270.7 1162.0 L271.5 1163.4 L272.2 1162.8 L273.0 1163.7 L273.7 1163.0 L274.4 1163.0 L275.2 1163.6 L275.9 1164.2 L276.7 1162.9 L277.4 1164.1 L278.1 1164.5 L278.9 1164.3 L279.6 1164.4 L280.4 1162.9 L281.1 1164.0 L281.9 1164.4 L282.6 1162.7 L283.3 1163.1 L284.1 1163.1 L284.8 1163.6 L285.6 1163.4 L286.3 1163.5 L287.0 1164.2 L287.8 1162.8 L288.5 1163.0 L289.3 1163.3 L290.0 1163.4 L290.7 1163.4 L291.5 1165.3 L292.2 1165.2 L293.0 1163.8 L293.7 1164.9 L294.4 1164.7 L295.2 1165.0 L295.9 1165.3 L296.7 1166.0 L297.4 1166.0 L298.1 1165.7 L298.9 1165.5 L299.6 1165.9 L300.4 1165.7 L301.1 1166.7 L301.9 1167.2 L302.6 1166.3 L303.3 1165.4 L304.1 1165.3 L304.8 1165.4 L305.6 1166.1 L306.3 1166.8 L307.0 1166.3 L307.8 1167.4 L308.5 1167.2 L309.3 1167.0 L310.0 1167.1 L310.7 1167.5 L311.5 1168.1 L312.2 1167.6 L313.0 1168.3 L313.7 1167.9 L314.4 1167.4 L315.2 1167.8 L315.9 1168.1 L316.7 1166.7 L317.4 1167.2 L318.1 1167.0 L318.9 1167.8 L319.6 1167.7 L320.4 1166.6 L321.1 1167.8 L321.9 1167.6 L322.6 1166.6 L323.3 1167.0 L324.1 1166.2 L324.8 1167.5 L325.6 1167.1 L326.3 1166.7 L327.0 1165.6 L327.8 1165.2 L328.5 1165.2 L329.3 1164.7 L330.0 1163.7 L330.7 1164.5 L331.5 1163.2 L332.2 1163.3 L333.0 1164.5 L333.7 1162.9 L334.4 1162.9 L335.2 1162.9 L335.9 1164.3 L336.7 1162.8 L337.4 1162.4 L338.1 1163.9 L338.9 1162.4 L339.6 1163.7 L340.4 1163.2 L341.1 1163.5 L341.9 1163.6 L342.6 1162.9 L343.3 1163.5 L344.1 1162.1 L344.8 1163.6 L345.6 1163.1 L346.3 1163.5 L347.0 1162.3 L347.8 1163.6 L348.5 1164.0 L349.3 1162.2 L350.0 1162.6 L350.7 1162.9 L351.5 1163.2 L352.2 1161.9 L353.0 1161.8 L353.7 1162.0 L354.4 1162.8 L355.2 1163.2 L355.9 1162.2 L356.7 1161.9 L357.4 1161.7 L358.1 1161.3 L358.9 1161.8 L359.6 1161.5 L360.4 1162.7 L361.1 1164.1 L361.9 1163.1 L362.6 1164.0 L363.3 1163.0 L364.1 1164.2 L364.8 1164.2 L365.6 1163.8 L366.3 1163.3 L367.0 1163.1 L367.8 1163.5 L368.5 1164.1 L369.3 1162.7 L370.0 1162.7 L370.7 1163.9 L371.5 1164.2 L372.2 1163.3 L373.0 1163.0 L373.7 1164.0 L374.4 1163.5 L375.2 1164.1 L375.9 1164.7 L376.7 1166.2 L377.4 1166.4 L378.1 1166.6 L378.9 1167.9 L379.6 1168.8 L380.4 1167.9 L381.1 1168.8 L381.9 1168.3 L382.6 1169.2 L383.3 1168.8 L384.1 1168.3 L384.8 1168.5 L385.6 1168.3 L386.3 1169.4 L387.1 1169.2 L387.9 1168.8 L388.7 1169.2 L389.4 1169.1 L390.2 1170.1 L390.9 1169.0 L391.7 1170.8 L392.4 1169.8 L393.1 1170.2 L393.9 1170.0 L394.6 1170.9 L395.4 1171.0 L396.1 1170.6 L396.9 1170.6 L397.6 1171.3 L398.3 1171.7 L399.1 1170.8 L399.8 1171.4 L400.6 1171.9 L401.3 1170.9 L402.0 1170.4 L402.8 1170.4 L403.5 1171.3 L404.3 1171.2 L405.0 1171.7 L405.7 1171.4 L406.5 1170.1 L407.2 1169.9 L408.0 1170.1 L408.7 1170.0 L409.4 1171.2 L410.2 1171.5 L410.9 1171.7 L411.7 1170.5 L412.4 1171.7 L413.1 1170.7 L413.9 1171.0 L414.6 1171.6 L415.4 1170.4 L416.1 1170.4 L416.9 1172.0 L417.6 1170.9 L418.3 1171.1 L419.1 1171.6 L419.8 1171.9 L420.6 1170.6 L421.3 1171.1 L422.0 1171.1 L422.8 1171.1 L423.5 1170.4 L424.3 1171.1 L425.0 1171.7 L425.7 1170.5 L426.5 1170.8 L427.2 1169.8 L428.0 1170.1 L428.7 1170.6 L429.4 1169.2 L430.2 1170.6 L430.9 1170.3 L431.7 1168.5 L432.4 1169.9 L433.1 1168.7 L433.9 1169.3 L434.6 1169.2 L435.4 1168.1 L436.1 1168.8 L436.9 1168.6 L437.6 1168.9 L438.3 1167.7 L439.1 1168.7 L439.8 1169.0 L440.6 1168.4 L441.3 1168.1 L442.0 1167.3 L442.8 1168.1 L443.5 1167.9 L444.3 1168.6 L445.0 1168.6 L445.7 1168.4 L446.5 1167.5 L447.2 1168.3 L448.0 1168.2 L448.7 1167.2 L449.4 1168.5 L450.2 1167.9 L450.9 1166.6 L451.7 1168.0 L452.4 1166.2 L453.1 1166.4 L453.9 1167.0 L454.6 1166.8 L455.4 1166.7 L456.1 1167.0 L456.9 1166.7 L457.6 1166.4 L458.3 1166.0 L459.1 1165.6 L459.8 1166.7 L460.6 1166.6 L461.3 1165.0 L462.0 1164.3 L462.8 1163.5 L463.5 1163.3 L464.3 1163.4 L465.0 1164.4 L465.7 1162.6 L466.5 1163.5 L467.2 1162.9 L468.0 1163.8 L468.7 1162.9 L469.4 1162.8 L470.2 1162.8 L470.9 1163.0 L471.7 1163.4 L472.4 1162.5 L473.1 1163.4 L473.9 1161.9 L474.6 1162.3 L475.4 1162.1 L476.1 1162.2 L476.9 1163.7 L477.6 1163.6 L478.3 1162.5 L479.1 1162.5 L479.8 1162.9 L480.6 1163.6 L481.3 1163.7 L482.1 1163.9 L482.9 1163.8 L483.7 1163.2 L484.4 1163.9 L485.2 1163.7 L485.9 1164.6 L486.7 1164.9 L487.4 1164.3 L488.1 1164.6 L488.9 1165.9 L489.6 1164.1 L490.4 1165.4 L491.1 1165.4 L491.9 1165.2 L492.6 1163.9 L493.3 1164.0 L494.1 1164.0 L494.8 1164.1 L495.6 1164.8 L496.3 1164.2 L497.0 1163.5 L497.8 1164.6 L498.5 1163.9 L499.3 1164.2 L500.0 1164.5 L500.7 1163.1 L501.5 1164.6 L502.2 1164.5 L503.0 1164.3 L503.7 1164.5 L504.4 1164.5 L505.2 1164.1 L505.9 1164.9 L506.7 1164.1 L507.4 1165.4 L508.1 1166.1 L508.9 1166.0 L509.6 1166.7 L510.4 1167.6 L511.1 1167.6 L511.9 1166.3 L512.6 1167.8 L513.3 1167.6 L514.1 1166.7 L514.8 1167.3 L515.6 1167.2 L516.3 1166.9 L517.0 1167.9 L517.8 1168.8 L518.5 1167.6 L519.3 1168.8 L520.0 1168.5 L520.7 1167.4 L521.5 1168.9 L522.2 1168.4 L523.0 1169.1 L523.7 1168.7 L524.4 1168.8 L525.2 1168.0 L525.9 1169.0 L526.7 1169.3 L527.4 1169.2 L528.1 1168.4 L528.9 1169.1 L529.6 1168.6 L530.4 1168.0 L531.1 1167.9 L531.9 1168.0 L532.6 1168.4 L533.3 1168.4 L534.1 1169.1 L534.8 1169.5 L535.6 1169.3 L536.3 1169.1 L537.0 1169.6 L537.8 1169.0 L538.5 1169.4 L539.3 1170.0 L540.0 1169.2 L540.7 1168.7 L541.5 1170.1 L542.2 1169.6 L543.0 1168.8 L543.7 1168.8 L544.4 1169.2 L545.2 1169.4 L545.9 1168.7 L546.7 1168.3 L547.4 1168.8 L548.1 1170.0 L548.9 1168.8 L549.6 1169.5 L550.4 1169.0 L551.1 1169.1 L551.9 1169.1 L552.6 1169.6 L553.3 1169.1 L554.1 1168.7 L554.8 1168.8 L555.6 1168.9 L556.3 1169.5 L557.0 1168.6 L557.8 1168.4 L558.5 1169.2 L559.3 1169.0 L560.0 1169.4 L560.7 1168.0 L561.5 1168.6 L562.2 1168.5 L563.0 1167.6 L563.7 1169.5 L564.4 1168.0 L565.2 1167.7 L565.9 1168.4 L566.7 1167.7 L567.4 1168.6 L568.1 1168.0 L568.9 1167.5 L569.6 1167.4 L570.4 1168.7 L571.1 1167.7 L571.9 1168.7 L572.6 1168.0 L573.3 1168.9 L574.1 1167.6 L574.8 1167.5 L575.6 1167.3 L576.4 1168.2 L577.1 1167.7 L577.9 1166.9 L578.7 1166.2 L579.4 1167.2 L580.2 1167.7 L580.9 1166.9 L581.7 1165.7 L582.4 1165.7 L583.1 1165.7 L583.9 1165.9 L584.6 1165.5 L585.4 1165.5 L586.1 1166.6 L586.9 1167.0 L587.6 1165.5 L588.3 1167.0 L589.1 1166.0 L589.8 1166.7 L590.6 1166.9 L591.3 1167.0 L592.0 1165.1 L592.8 1165.7 L593.5 1166.2 L594.3 1166.8 L595.0 1165.0 L595.7 1165.4 L596.5 1166.4 L597.2 1164.9 L598.0 1165.3 L598.7 1165.1 L599.4 1165.7 L600.2 1166.1 L600.9 1164.5 L601.7 1165.5 L602.4 1165.3 L603.1 1165.3 L603.9 1164.6 L604.6 1165.1 L605.4 1163.8 L606.1 1163.7 L606.9 1163.2 L607.6 1164.2 L608.3 1163.4 L609.1 1162.9 L609.8 1162.6 L610.6 1163.6 L611.3 1163.1 L612.0 1163.0 L612.8 1162.1 L613.5 1162.0 L614.3 1161.6 L615.0 1163.0 L615.7 1161.9 L616.5 1163.0 L617.2 1163.5 L618.0 1163.2 L618.7 1162.0 L619.4 1162.1 L620.2 1163.2 L620.9 1162.7 L621.7 1163.0 L622.4 1162.8 L623.1 1161.9 L623.9 1162.6 L624.6 1162.2 L625.4 1161.3 L626.1 1161.6 L626.9 1161.1 L627.6 1162.0 L628.3 1163.3 L629.1 1161.1 L629.8 1161.5 L630.6 1160.1 L631.3 1159.3 L632.0 1159.7 L632.5 1161.6" stroke="#000" stroke-width="2.3" fill="none" stroke-linejoin="round"/>
<path d="M78.0 424H660.9" stroke="#707070" stroke-width="1.8" fill="none"/>
<path d="M78.4 1165.9H661.8" stroke="#707070" stroke-width="1.8" fill="none"/>
<rect x="360.6" y="123.5" width="15.9" height="11.9" fill="none" stroke="#000" stroke-width="1.3"/>
<path d="M376.5 123.5L416.9 91.6" stroke="#000" stroke-width="1.4" fill="none"/>
<path d="M421 88.4L416.78 95.16L416.92 91.62L413.44 90.92Z" fill="#000"/>
<path d="M420.9 17.2V92.6" stroke="#5e5e5e" stroke-width="1.5" fill="none"/>
<path d="M416.3 17.2H420.8" stroke="#555" stroke-width="1.5" fill="none"/>
<path d="M420.8 88.4H649.8V92.5" stroke="#333" stroke-width="1.5" fill="none"/>
<text transform="translate(407.50 23.20) scale(1 1.07)" font-size="16" text-anchor="end">0.8</text>
<text transform="translate(408.00 93.80) scale(1 1.07)" font-size="16" text-anchor="end">-0.8</text>
<text transform="translate(421.30 112.60) scale(1 1.07)" font-size="16" text-anchor="middle">29.5</text>
<text transform="translate(650.20 112.40) scale(1 1.07)" font-size="16" text-anchor="middle">30.5</text>
<path d="M421.8 40.6 L422.4 40.8 L423.0 41.8 L423.9 41.1 L424.8 40.8 L425.4 42.3 L426.0 44.3 L426.7 43.5 L427.4 42.9 L428.2 40.7 L428.9 40.3 L429.5 38.9 L430.1 37.8 L431.0 36.9 L431.9 36.5 L432.8 38.9 L433.5 37.9 L434.2 36.9 L434.8 37.5 L435.4 36.9 L436.1 36.3 L436.7 36.0 L437.4 36.5 L438.1 37.0 L438.8 36.4 L439.5 34.1 L440.2 35.5 L440.8 36.1 L441.4 36.2 L442.0 36.0 L442.7 37.3 L443.4 37.3 L444.2 37.8 L444.9 36.5 L445.5 34.5 L446.1 32.7 L446.7 32.2 L447.4 29.7 L448.1 29.3 L448.8 28.1 L449.5 27.2 L450.2 26.7 L450.8 26.2 L451.4 25.0 L452.1 23.5 L452.7 22.9 L453.4 23.1 L454.1 20.6 L454.8 19.8 L455.5 20.0 L456.2 18.4 L456.8 18.1 L457.4 18.2 L458.0 18.2 L458.7 20.6 L459.4 20.1 L460.2 20.9 L460.9 21.0 L461.5 22.4 L462.1 22.4 L463.0 20.4 L463.7 22.2 L464.4 22.4 L465.0 23.6 L465.7 25.0 L466.3 23.0 L466.9 22.5 L467.6 23.4 L468.3 25.1 L469.0 23.9 L469.8 22.3 L470.4 21.8 L471.0 20.9 L471.6 22.4 L472.2 22.4 L473.0 24.4 L473.7 25.4 L474.4 25.1 L475.1 24.3 L475.7 25.1 L476.3 23.6 L477.0 24.7 L477.6 26.6 L478.3 26.2 L479.0 25.5 L479.7 26.9 L480.4 26.6 L481.0 27.3 L481.7 26.5 L482.3 26.7 L482.9 27.7 L484.0 28.8 L484.6 28.4 L485.2 28.7 L485.8 26.4 L486.5 24.7 L487.2 24.0 L487.9 23.6 L488.6 24.3 L489.3 23.1 L489.9 23.4 L490.6 23.4 L491.2 24.5 L491.8 22.6 L492.5 22.7 L493.2 23.0 L493.9 22.4 L494.6 22.1 L495.3 24.8 L495.9 25.3 L496.5 23.5 L497.1 22.8 L497.8 22.8 L498.6 24.9 L499.3 22.2 L500.0 22.1 L500.6 23.0 L501.2 22.6 L501.8 23.8 L502.5 22.8 L503.2 22.8 L503.9 23.7 L504.6 23.6 L505.3 25.0 L505.9 25.2 L506.6 27.1 L507.2 26.7 L507.8 25.6 L508.5 25.1 L509.2 25.9 L509.9 26.1 L510.6 26.3 L511.3 27.2 L511.9 29.4 L512.8 29.3 L513.7 30.4 L514.6 33.5 L515.4 34.1 L516.3 36.1 L517.2 36.1 L518.1 38.2 L519.0 38.8 L519.9 39.9 L520.8 40.7 L521.7 41.3 L522.6 41.5 L523.4 42.5 L524.3 44.5 L525.0 45.0 L525.6 45.5 L526.3 44.8 L527.0 45.9 L527.9 47.0 L528.8 47.6 L529.4 48.3 L530.0 48.0 L530.6 49.1 L531.5 50.2 L532.3 50.1 L532.8 51.6 L533.4 50.7 L534.1 48.0 L534.8 50.9 L535.6 52.0 L536.3 50.8 L537.0 48.9 L537.7 51.5 L538.3 50.9 L539.0 53.1 L539.6 52.9 L540.7 53.6 L541.4 52.4 L542.0 51.9 L542.7 51.3 L543.3 51.2 L544.1 52.5 L544.8 52.0 L545.6 52.5 L546.3 55.3 L546.9 52.4 L547.6 53.0 L548.2 53.0 L548.9 56.0 L549.6 55.5 L550.4 55.2 L551.1 54.1 L551.9 54.3 L552.5 52.6 L553.1 53.3 L553.8 53.8 L554.4 56.2 L555.6 59.1 L556.2 59.4 L556.9 60.4 L557.5 58.8 L558.1 58.1 L558.9 58.3 L559.6 57.2 L560.4 56.6 L561.1 54.7 L561.8 54.6 L562.4 56.0 L563.1 56.6 L563.7 56.0 L564.4 55.9 L565.2 58.5 L565.9 58.8 L566.7 57.7 L567.3 59.2 L568.0 59.4 L568.6 59.9 L569.3 58.7 L570.0 59.7 L570.7 61.5 L571.5 62.1 L572.2 60.1 L572.9 61.1 L573.5 63.0 L574.2 62.9 L574.8 61.5 L575.6 62.5 L576.3 64.4 L577.0 63.8 L577.8 61.9 L578.4 64.5 L579.1 64.0 L579.7 64.7 L580.4 66.2 L581.1 66.5 L581.9 68.4 L582.6 67.9 L583.3 70.0 L584.0 67.2 L584.6 65.8 L585.3 67.7 L585.9 68.6 L586.7 69.6 L587.4 71.0 L588.1 70.1 L588.9 68.3 L589.6 73.5 L590.4 71.2 L591.1 68.3 L591.9 70.2 L592.6 71.1 L593.2 68.6 L593.9 67.3 L594.5 69.7 L595.2 69.9 L595.9 71.6 L596.7 73.0 L597.4 70.7 L598.1 69.2 L598.8 67.9 L599.4 66.1 L600.1 66.7 L600.7 65.1 L601.5 65.7 L602.2 64.2 L603.0 65.8 L603.7 66.1 L604.4 65.0 L605.0 64.0 L605.6 63.9 L606.3 65.7 L607.4 62.5 L608.1 64.0 L608.7 63.9 L609.4 64.4 L610.0 65.2 L610.7 66.2 L611.5 64.5 L612.2 66.9 L613.0 66.8 L613.6 66.4 L614.3 65.3 L614.9 66.7 L615.6 66.6 L616.3 66.1 L617.0 66.1 L617.8 65.7 L618.5 67.7 L619.2 66.3 L619.8 65.5 L620.5 64.3 L621.1 63.7 L621.9 66.5 L622.6 67.1 L623.3 64.8 L624.1 62.5 L624.7 63.7 L625.4 63.0 L626.0 63.1 L626.7 62.2 L627.4 63.1 L628.1 64.6 L628.9 63.5 L629.6 63.2 L630.3 61.1 L630.9 61.8 L631.6 60.9 L632.2 60.1 L633.0 59.6 L633.7 59.7 L634.4 58.2 L635.2 59.0 L635.8 56.1 L636.5 54.6 L637.1 53.6 L637.8 51.5 L638.5 49.6 L639.3 48.3 L640.0 49.3 L640.7 50.6 L641.4 52.3 L642.0 53.0 L642.7 50.8 L643.3 49.6 L644.1 50.2 L644.8 48.8 L645.7 46.9 L646.7 43.3 L647.4 42.1 L648.1 41.2 L648.8 41.2 L649.4 40.8 L650.4 44.3" stroke="#000" stroke-width="2.1" fill="none" stroke-linejoin="round"/>
</svg></body></html>
